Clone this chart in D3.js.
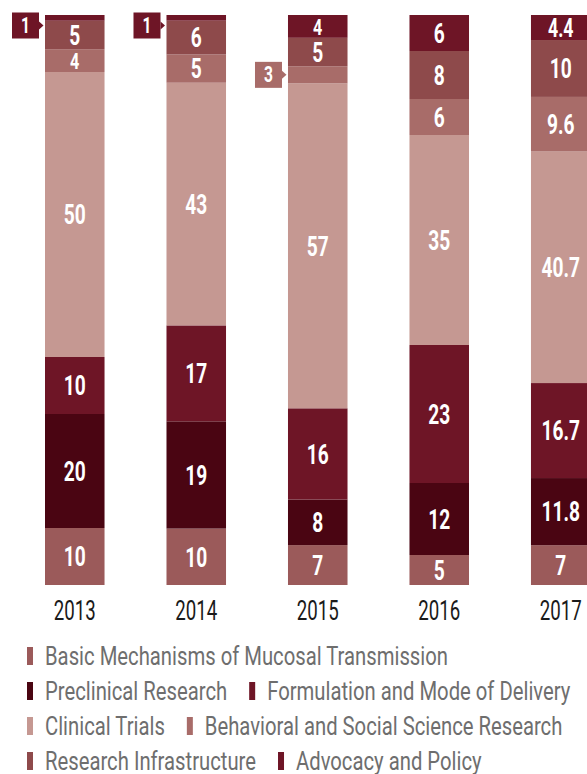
<!DOCTYPE html>
<html>
<head>
<meta charset="utf-8">
<script src="https://cdn.jsdelivr.net/npm/d3@7"></script>
<style>
  body { margin: 0; background: #fff; overflow: hidden; }
  svg { display: block; }
</style>
</head>
<body>
<div id="chart"></div>
<script>
// funding share by research area, stacked bottom -> top
const years = ["2013", "2014", "2015", "2016", "2017"];
const categories = [
  "Basic Mechanisms of Mucosal Transmission",
  "Preclinical Research",
  "Formulation and Mode of Delivery",
  "Clinical Trials",
  "Behavioral and Social Science Research",
  "Research Infrastructure",
  "Advocacy and Policy"
];
const basic = [10, 10, 7, 5, 7];
const preclinical = [20, 19, 8, 12, 11.8];
const formulation = [10, 17, 16, 23, 16.7];
const clinical = [50, 43, 57, 35, 40.7];
const behavioral = [4, 5, 3, 6, 9.6];
const infrastructure = [5, 6, 5, 8, 10];
const advocacy = [1, 1, 4, 6, 4.4];
const colors = ["#9b5a5a", "#4a0512", "#6e1526", "#c59892", "#a86c69", "#8e4a4b", "#6e1526"];

const seriesValues = [basic, preclinical, formulation, clinical, behavioral, infrastructure, advocacy];
const rows = years.map((y, i) => {
  const r = { year: y };
  categories.forEach((c, k) => r[c] = seriesValues[k][i]);
  return r;
});

const width = 587, height = 774;
const svg = d3.select("#chart").append("svg")
  .attr("width", width)
  .attr("height", height);

const font = "Roboto, 'DejaVu Sans Condensed', sans-serif";

// the original uses a condensed face; squeeze Roboto horizontally to match
function squeeze(sample, size, weight, target) {
  const t = svg.append("text")
    .style("font-family", font).style("font-size", size + "px")
    .style("font-weight", weight).text(sample);
  const w = t.node().getComputedTextLength();
  t.remove();
  return target / w;
}
const kLegend = squeeze("Basic Mechanisms of Mucosal Transmission", 25, "normal", 403);
const kYear = squeeze("2013", 27, "normal", 42);
const kValue = squeeze("43", 27, "bold", 22);

const x = d3.scaleBand()
  .domain(years)
  .range([45, 590.5])
  .paddingInner(0.51)
  .paddingOuter(0);

const y = d3.scaleLinear().domain([0, 1]).range([585, 15]);

const color = d3.scaleOrdinal().domain(categories).range(colors);

const stacked = d3.stack()
  .keys(categories)
  .offset(d3.stackOffsetExpand)(rows);

const layer = svg.selectAll("g.layer")
  .data(stacked)
  .join("g")
  .attr("class", "layer")
  .attr("fill", d => color(d.key));

layer.selectAll("rect")
  .data(d => d.map(p => ({ key: d.key, p })))
  .join("rect")
  .attr("x", d => x(d.p.data.year))
  .attr("y", d => y(d.p[1]))
  .attr("width", x.bandwidth())
  .attr("height", d => y(d.p[0]) - y(d.p[1]));

// value labels
const segs = [];
stacked.forEach(s => s.forEach(p => {
  segs.push({ key: s.key, year: p.data.year, value: p.data[s.key], y0: y(p[0]), y1: y(p[1]) });
}));

const inside = segs.filter(d => d.value >= 4);
const outside = segs.filter(d => d.value < 4);

const fsOf = d => Math.min(27, (d.y0 - d.y1) * 1.0);

svg.append("g").selectAll("text")
  .data(inside)
  .join("text")
  .attr("transform", d => {
    const mid = (d.y0 + d.y1) / 2;
    return `translate(${x(d.year) + x.bandwidth() / 2},${mid + fsOf(d) * 0.36}) scale(${kValue},1)`;
  })
  .attr("text-anchor", "middle")
  .style("font-family", font)
  .style("font-weight", "bold")
  .style("font-size", d => fsOf(d) + "px")
  .style("fill", "#fff")
  .text(d => d.value);

// callouts for thin segments
const boxW = 27, boxH = 26;
const call = svg.append("g").selectAll("g")
  .data(outside)
  .join("g")
  .attr("transform", d => {
    const mid = Math.max((d.y0 + d.y1) / 2, 12.5 + boxH / 2);
    return `translate(${x(d.year) - 6},${mid})`;
  });

call.append("rect")
  .attr("x", -boxW)
  .attr("y", -boxH / 2)
  .attr("width", boxW)
  .attr("height", boxH)
  .attr("fill", d => color(d.key));

call.append("path")
  .attr("d", "M0,-4L4.5,0L0,4Z")
  .attr("fill", d => color(d.key));

call.append("text")
  .attr("transform", `translate(${-boxW / 2},7.5) scale(${kValue},1)`)
  .attr("text-anchor", "middle")
  .style("font-family", font)
  .style("font-weight", "bold")
  .style("font-size", "22px")
  .style("fill", "#fff")
  .text(d => d.value);

// year labels
svg.append("g").selectAll("text")
  .data(years)
  .join("text")
  .attr("transform", d => `translate(${x(d) + x.bandwidth() / 2},620) scale(${kYear},1)`)
  .attr("text-anchor", "middle")
  .style("font-family", font)
  .style("font-size", "27px")
  .style("fill", "#1a1a1a")
  .text(d => d);

// legend, flowing left to right
const legend = svg.append("g");
let lx = 27, ly = 665;
const maxX = 582;
categories.forEach(c => {
  const item = legend.append("g");
  item.append("rect")
    .attr("width", 6)
    .attr("height", 18)
    .attr("y", -18)
    .attr("fill", color(c));
  const t = item.append("text")
    .attr("transform", `translate(18,0) scale(${kLegend},1)`)
    .style("font-family", font)
    .style("font-size", "25px")
    .style("fill", "#6e6e6e")
    .text(c);
  const w = 18 + t.node().getComputedTextLength() * kLegend;
  if (lx > 27 && lx + w > maxX) {
    lx = 27;
    ly += 35;
  }
  item.attr("transform", `translate(${lx},${ly})`);
  lx += w + 22;
});
</script>
</body>
</html>
